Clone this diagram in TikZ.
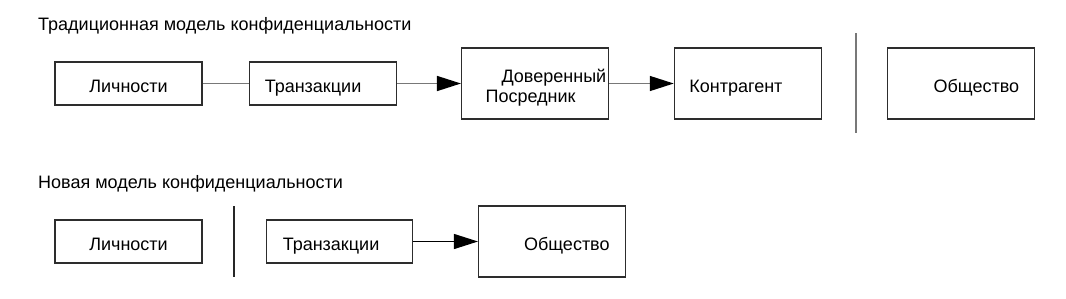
\documentclass[tikz,border=0pt]{standalone}
\usepackage{fontspec}
\setmainfont{Liberation Sans}
\usepackage{tikz}
\usetikzlibrary{arrows.meta, positioning}
\definecolor{boxline}{RGB}{45,45,45}
\definecolor{wire}{RGB}{120,120,120}

\begin{document}
\begin{tikzpicture}[
        x=1pt, y=-1pt,
        font=\fontsize{18}{20}\selectfont,
        box/.style={draw=boxline, line width=1.3pt, rectangle, minimum width=147pt, minimum height=43pt, text width=117pt, inner xsep=15pt, inner ysep=0pt, text height=17pt, text depth=0pt},
        tall/.style={minimum height=71pt},
        caption/.style={anchor=west, inner sep=0pt},
        link/.style={draw=wire, line width=1.5pt},
        arrow/.style={-{Triangle[length=24pt, width=15pt, color=black]}, line width=1.5pt},
        divider/.style={draw=wire, line width=2pt}
    ]
        \useasboundingbox (0,0) rectangle (1066,298);

        % Traditional model
        \node (oldtitle) [caption] at (38,26) {Традиционная модель конфиденциальности};
        \node (oldpers) [box, align=center] at (128.5,83.5) {Личности};
        \node (oldtrans) [box, align=left, right=46.5pt of oldpers] {Транзакции};
        \node (trusted) [draw=boxline, line width=1.3pt, minimum width=147pt, minimum height=71pt, align=left, text width=143pt, inner xsep=2pt, inner ysep=0pt, right=63.5pt of oldtrans] {\rule{0pt}{21pt}\hspace*{38pt}Доверенный\\\hspace*{22pt}Посредник};
        \node (contra) [box, tall, align=left, right=64.5pt of trusted] {Контрагент};
        \node (oldsoc) [box, tall, align=right, right=64.5pt of contra] {Общество};
        \coordinate (oldcuttop) at (856,33);
        \coordinate (oldcutbot) at (856,133);

        % Paths
        \draw [link] (oldpers) -- (oldtrans);
        \draw [link, arrow] (oldtrans) -- (trusted);
        \draw [link, arrow] (trusted) -- (contra);
        \draw [divider] (oldcuttop) -- (oldcutbot);

        % New model
        \node (newtitle) [caption] at (38,184) {Новая модель конфиденциальности};
        \node (newpers) [box, align=center] at (128.5,241.5) {Личности};
        \node (newtrans) [box, align=left, right=63.5pt of newpers, minimum width=146pt, text width=114pt, inner xsep=16pt] {Транзакции};
        \node (newsoc) [box, tall, align=right, text width=115pt, inner xsep=16pt, right=64.5pt of newtrans] {Общество};
        \coordinate (newcuttop) at (234,206);
        \coordinate (newcutbot) at (234,277);

        % Paths
        \draw [arrow, line width=1.2pt] (newtrans) -- (newsoc);
        \draw [divider, line width=1.5pt, draw=black!85] (newcuttop) -- (newcutbot);
\end{tikzpicture}
\end{document}
